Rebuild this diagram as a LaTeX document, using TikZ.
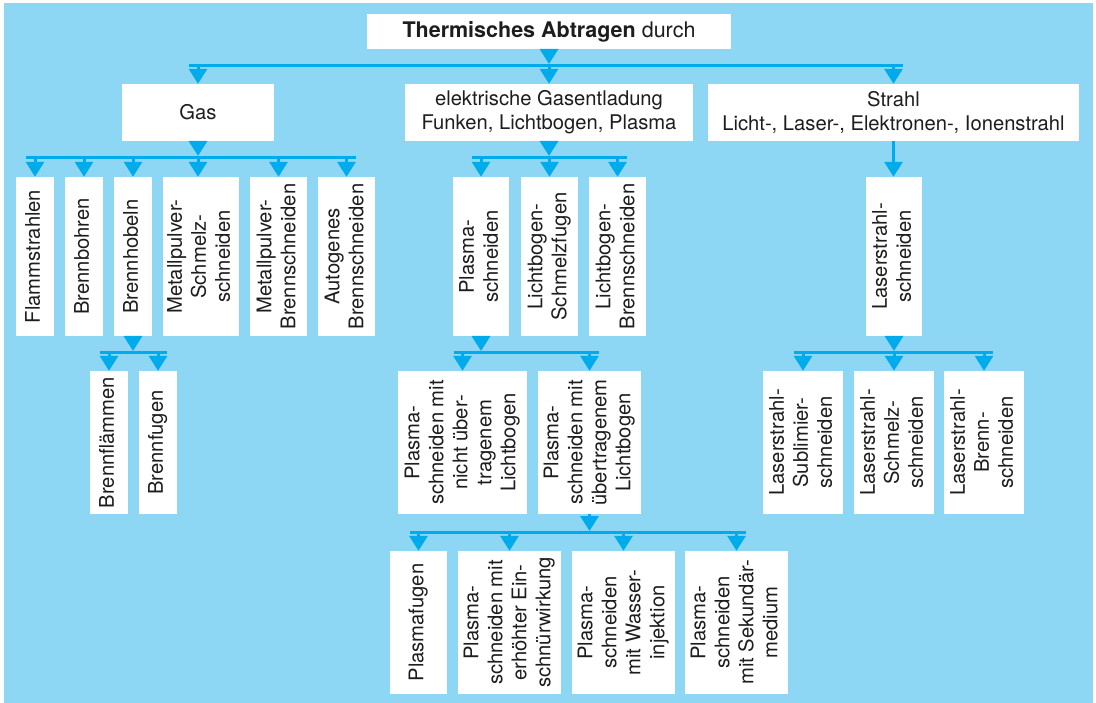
\documentclass[tikz,border=0pt]{standalone}
\usepackage{fontspec}
\setmainfont{TeX Gyre Heros}
\usepackage{graphicx}
\usetikzlibrary{arrows.meta}
\definecolor{bgblue}{RGB}{141,215,245}
\definecolor{connblue}{RGB}{0,171,236}
\definecolor{txtgray}{RGB}{30,28,28}
\newcommand\vt[1]{\rotatebox{90}{\begin{tabular}{@{}c@{}}#1\end{tabular}}}
\newcommand\mybox[6]{\node[box, minimum width={(#4-#2)*1pt}, minimum height={(#5-#3)*1pt}] (#1) at ({(#2+#4)/2},{(#3+#5)/2}) {#6};}
\begin{document}
\begin{tikzpicture}[x=1pt,y=-1pt,
  box/.style={fill=white, inner sep=0pt, text=txtgray, font=\fontsize{20.2}{24}\selectfont, align=center},
  conn/.style={draw=connblue, line width=3pt, -{Triangle[length=15pt,width=18pt]}},
  bar/.style={draw=connblue, line width=3pt}]
\useasboundingbox (0,0) rectangle (1096,703);
\fill[white] (0,0) rectangle (1096,703);
\fill[bgblue] (4,3) rectangle (1093,703);

% level 0
\mybox{top}{367}{14}{731}{49}{\fontsize{21.5}{24}\selectfont\textbf{Thermisches Abtragen} durch}
% level 1
\mybox{gas}{122}{84}{274}{141}{Gas}
\mybox{elek}{405}{84}{693}{141}{elektrische Gasentladung\\Funken, Lichtbogen, Plasma}
\mybox{strahl}{708}{84}{1079}{141}{Strahl\\Licht-, Laser-, Elektronen-, Ionenstrahl}
% level 2
\mybox{flamm}{16}{177}{54}{336}{\vt{Flammstrahlen}}
\mybox{bohr}{65}{177}{103}{336}{\vt{Brennbohren}}
\mybox{hobel}{114}{177}{152}{336}{\vt{Brennhobeln}}
\mybox{mps}{163}{177}{239}{336}{\vt{Metallpulver-\\Schmelz-\\schneiden}}
\mybox{mpb}{250}{177}{307}{336}{\vt{Metallpulver-\\Brennschneiden}}
\mybox{auto}{318}{177}{375}{336}{\vt{Autogenes\\Brennschneiden}}
\mybox{ps}{453}{177}{509}{336}{\vt{Plasma-\\schneiden}}
\mybox{lbs}{521}{177}{578}{336}{\vt{Lichtbogen-\\Schmelzfugen}}
\mybox{lbb}{589}{177}{646}{336}{\vt{Lichtbogen-\\Brennschneiden}}
\mybox{laser}{866}{177}{922}{336}{\vt{Laserstrahl-\\schneiden}}
% level 3
\mybox{flaemm}{90}{371}{128}{514}{\vt{Brennflämmen}}
\mybox{fugen}{139}{371}{177}{514}{\vt{Brennfugen}}
\mybox{pnu}{398}{371}{527}{514}{\vt{Plasma-\\schneiden mit\\nicht über-\\tragenem\\Lichtbogen}}
\mybox{pu}{538}{371}{641}{514}{\vt{Plasma-\\schneiden mit\\übertragenem\\Lichtbogen}}
\mybox{ls1}{763}{371}{843}{514}{\vt{Laserstrahl-\\Sublimier-\\schneiden}}
\mybox{ls2}{854}{371}{934}{514}{\vt{Laserstrahl-\\Schmelz-\\schneiden}}
\mybox{ls3}{944}{371}{1024}{514}{\vt{Laserstrahl-\\Brenn-\\schneiden}}
% level 4
\mybox{pf}{390}{551}{447}{694}{\vt{Plasmafugen}}
\mybox{pe}{458}{551}{561}{694}{\vt{Plasma-\\schneiden mit\\erhöhter Ein-\\schnürwirkung}}
\mybox{pw}{572}{551}{675}{694}{\vt{Plasma-\\schneiden\\mit Wasser-\\injektion}}
\mybox{psek}{685}{551}{788}{694}{\vt{Plasma-\\schneiden\\mit Sekundär-\\medium}}

% bar levels
\coordinate (b1) at (0,65.5);
\coordinate (b2) at (0,157.5);
\coordinate (b3) at (0,352.5);
\coordinate (b4) at (0,532.5);

% level 0 -> 1
\draw[conn] (top.south) -- ([yshift=1.5pt]top.south |- b1);
\draw[bar] ([xshift=-9pt]gas.north |- b1) -- ([xshift=9pt]strahl.north |- b1);
\foreach \c in {gas,elek,strahl} \draw[conn] (\c.north |- b1) -- (\c.north);

% Gas -> children
\draw[conn] (gas.south) -- ([yshift=1.5pt]gas.south |- b2);
\draw[bar] ([xshift=-9pt]flamm.north |- b2) -- ([xshift=9pt]auto.north |- b2);
\foreach \c in {flamm,bohr,hobel,mpb,auto} \draw[conn] (\c.north |- b2) -- (\c.north);
\draw[conn] (gas.south |- b2) -- (gas.south |- mps.north);

% elektrische -> children
\draw[conn] (elek.south) -- ([yshift=1.5pt]elek.south |- b2);
\draw[bar] ([xshift=-9pt]ps.north |- b2) -- ([xshift=9pt]lbb.north |- b2);
\foreach \c in {ps,lbs,lbb} \draw[conn] (\c.north |- b2) -- (\c.north);

% Strahl -> Laserstrahlschneiden
\draw[conn] (strahl.south) -- (strahl.south |- laser.north);

% Brennhobeln -> children
\draw[conn] (hobel.south) -- ([yshift=1.5pt]hobel.south |- b3);
\draw[bar] ([xshift=-9pt]flaemm.north |- b3) -- ([xshift=9pt]fugen.north |- b3);
\foreach \c in {flaemm,fugen} \draw[conn] (\c.north |- b3) -- (\c.north);

% Plasmaschneiden -> children
\draw[conn] (ps.south) -- ([yshift=1.5pt]ps.south |- b3);
\draw[bar] ([xshift=-9pt]pnu.north |- b3) -- ([xshift=9pt]pu.north |- b3);
\foreach \c in {pnu,pu} \draw[conn] (\c.north |- b3) -- (\c.north);

% Laserstrahlschneiden -> children
\draw[conn] (laser.south) -- ([yshift=1.5pt]laser.south |- b3);
\draw[bar] ([xshift=-9pt]ls1.north |- b3) -- ([xshift=9pt]ls3.north |- b3);
\foreach \c in {ls1,ls2,ls3} \draw[conn] (\c.north |- b3) -- (\c.north);

% Plasma mit uebertragenem Lichtbogen -> children
\draw[conn] (pu.south) -- ([yshift=1.5pt]pu.south |- b4);
\draw[bar] ([xshift=-9pt]pf.north |- b4) -- ([xshift=9pt]psek.north |- b4);
\foreach \c in {pf,pe,pw,psek} \draw[conn] (\c.north |- b4) -- (\c.north);
\end{tikzpicture}
\end{document}
